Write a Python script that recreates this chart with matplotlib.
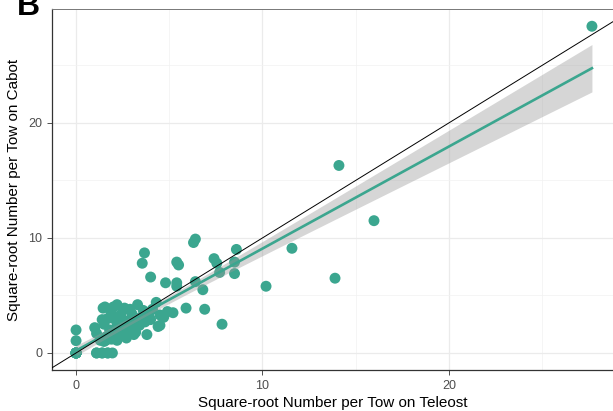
import matplotlib

matplotlib.use("Agg")
import matplotlib.pyplot as plt
import numpy as np

plt.rcParams["font.family"] = ["Liberation Sans", "DejaVu Sans"]

# square-root number per tow, Teleost (x) vs Cabot (y)
# (several tows overlap at 0/0 and inside the dense cluster)
teleost = [
    27.67, 14.1, 15.98, 11.58, 13.89, 10.19, 7.83,
    6.4, 6.3, 3.67, 3.55, 5.4, 5.5, 4.0, 4.8, 5.4, 5.4, 6.4, 6.8,
    7.4, 7.55, 7.7, 8.5, 8.5, 8.6, 4.3, 5.9, 6.9, 4.9, 4.7, 4.4, 3.8,
    5.2, 4.5, 4.0,
    0.0, 0.0, 0.0, 1.1, 1.4, 1.7, 1.95,
    1.1, 1.3, 1.6, 2.2, 1.0, 1.7, 3.1,
    1.45, 2.0, 2.5, 3.3, 2.2, 1.55,
    3.5, 2.9, 3.2,
    1.5, 1.8, 2.0, 2.2, 2.4, 2.6, 2.8, 3.0, 3.0, 2.3, 1.9, 1.7, 2.6,
    3.6, 3.9, 3.4, 2.1, 1.4, 2.7, 2.4, 1.8, 3.7, 3.2, 2.9, 4.1, 4.5,
    2.0, 2.5, 3.0, 1.6, 2.8, 3.4, 3.9, 2.3, 2.7, 3.3, 1.9, 2.1, 3.6,
    2.5, 3.1, 1.5, 2.2, 2.9,
    0.0, 0.0, 0.0, 0.0, 0.0, 0.0, 0.0, 0.0, 1.1, 1.4, 1.7,
]
cabot = [
    28.4, 16.3, 11.5, 9.1, 6.5, 5.8, 2.5,
    9.9, 9.6, 8.7, 7.8, 7.9, 7.65, 6.6, 6.1, 6.1, 5.8, 6.2, 5.5,
    8.2, 7.8, 7.0, 6.9, 7.9, 9.0, 4.4, 3.9, 3.8, 3.6, 3.1, 2.3, 1.6,
    3.5, 2.4, 2.9,
    2.0, 1.07, 0.0, 0.0, 0.0, 0.0, 0.0,
    1.7, 1.1, 1.1, 1.1, 2.2, 1.3, 1.6,
    3.9, 4.0, 3.7, 4.2, 4.2, 4.0,
    2.9, 1.7, 1.8,
    2.5, 2.0, 3.0, 2.4, 3.3, 2.0, 2.8, 3.4, 2.2, 1.6, 3.5, 3.0, 3.9,
    3.7, 3.2, 2.4, 2.0, 2.9, 1.3, 2.7, 1.6, 2.7, 3.0, 3.8, 3.8, 3.3,
    1.5, 2.2, 2.6, 1.4, 2.3, 3.0, 3.5, 1.9, 2.0, 2.6, 1.2, 1.4, 2.9,
    1.6, 2.1, 1.0, 1.3, 2.2,
    0.0, 0.0, 0.0, 0.0, 0.0, 0.0, 0.0, 0.0, 0.0, 0.0, 0.0,
]

teal = "#3BA68F"
x = np.array(teleost)
y = np.array(cabot)

# linear fit with 95% confidence band (like geom_smooth(method = "lm"))
slope, intercept = np.polyfit(x, y, 1)
n = len(x)
resid = y - (intercept + slope * x)
s = np.sqrt(np.sum(resid ** 2) / (n - 2))
xs = np.linspace(x.min(), x.max(), 100)
ys = intercept + slope * xs
se = s * np.sqrt(1 / n + (xs - x.mean()) ** 2 / np.sum((x - x.mean()) ** 2))
tval = 1.98

fig = plt.figure(figsize=(6.13, 4.11), dpi=100)
ax = fig.add_axes([52 / 613, 41 / 411, 561 / 613, 361 / 411])

ax.scatter(x, y, s=62, color=teal, edgecolors="none", zorder=2)
ax.fill_between(xs, ys - tval * se, ys + tval * se, color="#999999",
                alpha=0.4, lw=0, zorder=3)
ax.plot(xs, ys, color=teal, lw=1.9, zorder=4)
ax.axline((0, 0), slope=1, color="black", lw=0.7, zorder=5)

ax.set_xlim(-1.29, 28.8)
ax.set_ylim(-1.48, 29.9)
ax.set_xticks([0, 10, 20])
ax.set_yticks([0, 10, 20])
ax.set_xticks([5, 15, 25], minor=True)
ax.set_yticks([5, 15, 25], minor=True)
ax.grid(True, which="major", color="#EBEBEB", lw=0.9)
ax.grid(True, which="minor", color="#F2F2F2", lw=0.5)
ax.set_axisbelow(True)
ax.tick_params(which="major", length=3.5, color="#333333", labelsize=9,
               labelcolor="#4D4D4D", width=0.6)
ax.tick_params(which="minor", length=0)
for side in ["left", "bottom"]:
    ax.spines[side].set_color("#333333")
    ax.spines[side].set_linewidth(0.9)
for side in ["top", "right"]:
    ax.spines[side].set_color("#777777")
    ax.spines[side].set_linewidth(0.7)

ax.set_xlabel("Square-root Number per Tow on Teleost", fontsize=11, labelpad=3)
ax.set_ylabel("Square-root Number per Tow on Cabot", fontsize=11, labelpad=5)

fig.text(17 / 613, 1 - 15 / 411, "B", fontsize=23, fontweight="bold",
         va="baseline", ha="left")

fig.savefig("out.png", dpi=100)
